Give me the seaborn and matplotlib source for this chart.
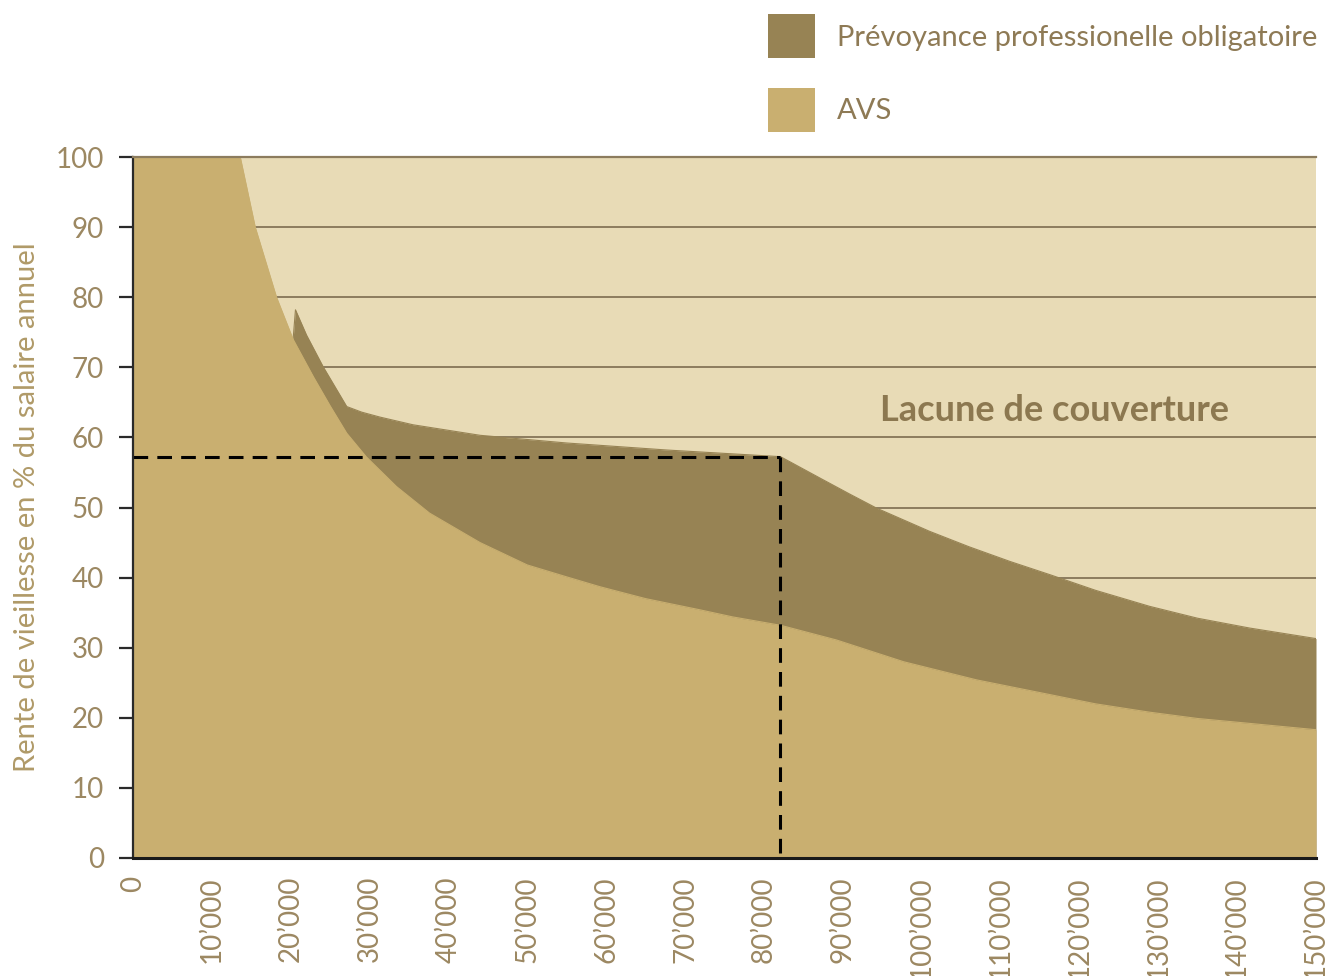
import numpy as np
import pandas as pd
import matplotlib
matplotlib.use("Agg")
import matplotlib.pyplot as plt
from matplotlib.patches import Patch
import seaborn as sns

# ---- data ----
salary_avs = [0, 13600, 15500, 18200, 20300, 22900, 25000, 27100, 29600, 33400,
              37600, 44000, 50000, 55000, 59200, 65000, 71900, 76000, 82100, 89200,
              97700, 107000, 116300, 122000, 128900, 135000, 141600, 150000]
avs_pct = [100, 100, 90, 80, 74, 68.6, 64.5, 60.6, 57.2, 53,
           49.2, 45, 41.8, 40.1, 38.7, 37.0, 35.4, 34.4, 33.2, 31.1,
           28, 25.4, 23.3, 22.0, 20.8, 19.9, 19.2, 18.3]

salary_total = [20300, 20600, 22000, 24100, 27100, 29000, 31300, 35500, 44000, 55000,
                67700, 82100, 87100, 90900, 94300, 101000, 106000, 111200, 116300,
                122000, 128900, 135000, 141600, 150000]
total_pct = [74, 78.2, 74.6, 70.1, 64.4, 63.6, 62.9, 61.8, 60.3, 59.2,
             58.2, 57.25, 54.2, 51.9, 49.9, 46.6, 44.4, 42.3, 40.4,
             38.2, 35.9, 34.2, 32.8, 31.3]

ref_salary = 82100
ref_pct = 57.25

x_ticks = list(range(0, 150001, 10000))
x_tick_labels = ["0", "10’000", "20’000", "30’000", "40’000", "50’000", "60’000",
                 "70’000", "80’000", "90’000", "100’000", "110’000", "120’000",
                 "130’000", "140’000", "150’000"]
y_ticks = list(range(0, 101, 10))

legend_labels = ["Prévoyance professionelle obligatoire", "AVS"]
gap_label = "Lacune de couverture"
y_label = "Rente de vieillesse en % du salaire annuel"

# ---- style ----
C_AVS = "#C9AF70"
C_BVG = "#978354"
C_BG = "#E8DBB6"
C_GRID = "#8C7C5E"
C_TICK = "#9C8862"
C_LEG = "#8E7A55"
C_YLAB = "#B09A68"

sns.set_theme(style="white")
plt.rcParams["font.family"] = ["Lato", "DejaVu Sans"]

fig = plt.figure(figsize=(13.31, 9.76), dpi=100)
ax = fig.add_axes([133 / 1331, 118 / 976, (1316 - 133) / 1331, (858 - 157) / 976])
ax.set_facecolor(C_BG)

df_avs = pd.DataFrame({"salary": salary_avs, "pct": avs_pct})
df_tot = pd.DataFrame({"salary": salary_total, "pct": total_pct})

# total (AVS + occupational) drawn first, AVS on top
ax.fill_between(df_tot["salary"], 0, df_tot["pct"], color=C_BVG, lw=0, zorder=2)
sns.lineplot(data=df_tot, x="salary", y="pct", color=C_BVG, lw=0.8, ax=ax, zorder=2.1)
ax.fill_between(df_avs["salary"], 0, df_avs["pct"], color=C_AVS, lw=0, zorder=3)
sns.lineplot(data=df_avs, x="salary", y="pct", color=C_AVS, lw=0.8, ax=ax, zorder=3.1)

# reference dashed lines
ax.plot([0, ref_salary], [ref_pct, ref_pct], color="black", lw=2.2,
        linestyle=(0, (4.8, 3.0)), zorder=5, clip_on=False)
ax.plot([ref_salary, ref_salary], [ref_pct, 0], color="black", lw=2.2,
        linestyle=(0, (4.8, 3.0)), zorder=5, clip_on=False)

ax.text(116800, 63.8, gap_label, ha="center", va="center", fontsize=26,
        fontweight="bold", color="#8C7850", zorder=6)

ax.set_xlim(0, 150000)
ax.set_ylim(0, 100)
ax.set_xticks(x_ticks)
ax.set_xticklabels(x_tick_labels, rotation=90, fontsize=20, color=C_TICK)
ax.set_yticks(y_ticks)
ax.set_yticklabels([str(v) for v in y_ticks], fontsize=20, color=C_TICK)
ax.tick_params(axis="x", length=0, pad=13)
ax.tick_params(axis="y", length=10, width=1.6, color="#2a2a2a", pad=11, left=True)
ax.set_xlabel("")
ax.set_ylabel(y_label, fontsize=21, color=C_YLAB, labelpad=11)

ax.yaxis.grid(True, color=C_GRID, lw=1.4)
ax.xaxis.grid(False)
ax.set_axisbelow(True)

ax.spines["right"].set_visible(False)
ax.spines["top"].set_color(C_GRID)
ax.spines["top"].set_linewidth(1.6)
ax.spines["left"].set_color("#2a2a2a")
ax.spines["left"].set_linewidth(1.6)
ax.spines["bottom"].set_color("#1a1a1a")
ax.spines["bottom"].set_linewidth(2.2)
for s in ["top", "left", "bottom"]:
    ax.spines[s].set_zorder(6)

handles = [Patch(facecolor=C_BVG, edgecolor="none"), Patch(facecolor=C_AVS, edgecolor="none")]
leg = fig.legend(handles, legend_labels, loc="upper left",
                 bbox_to_anchor=(745 / 1331, 1 + 9 / 976), frameon=False,
                 fontsize=21, handlelength=1.6, handleheight=1.95,
                 labelspacing=1.0, handletextpad=0.75, borderpad=0.3)
for t in leg.get_texts():
    t.set_color(C_LEG)

fig.savefig("out.png", dpi=100)
